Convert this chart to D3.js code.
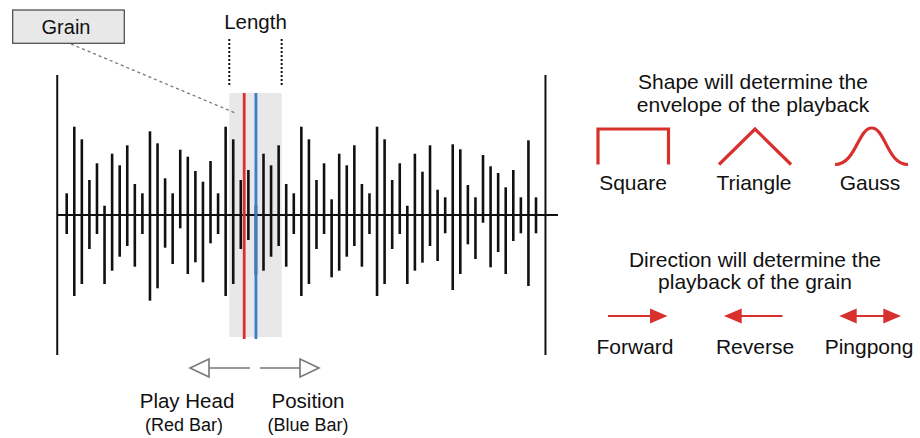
<!DOCTYPE html>
<html>
<head>
<meta charset="utf-8">
<script src="https://cdn.jsdelivr.net/npm/d3@7/dist/d3.min.js"></script>
<style>
  html, body { margin: 0; padding: 0; background: #fff; }
  svg { display: block; font-family: "Liberation Sans", Arial, sans-serif; }
</style>
</head>
<body>
<div id="chart"></div>
<script>
// ---- Data: grain waveform (sample amplitudes above / below the zero line) ----
const upper = [21.7, 88.3, 75.7, 35, 51.7, 9.3, 61.3, 49.7, 69.7, 31,
               21.7, 83.7, 71.7, 36.7, 21.7, 65.3, 58.3, 44, 33.3, 54,
               21.7, 88.3, 75.7, 35, 45, 10, 61.3, 49.7, 69.7, 31,
               21.7, 88.3, 75.7, 35, 51.7, 15.7, 61.3, 49.7, 69.7, 31,
               21.7, 88.3, 75.7, 35, 51.7, 9.3, 61.3, 43.3, 69.7, 25.3,
               17.7, 70.7, 65.7, 30, 17.7, 60, 48.7, 42, 27.7, 45,
               17.7, 74.7, 17.7];
const lower = [19, 81, 69, 34, 19, 69, 55.7, 41.7, 31, 51.7,
               19, 85.7, 73.3, 32.7, 49, 13.3, 59, 47.3, 67.3, 28.3,
               19, 81, 69, 34, 25, 60, 55.7, 41.7, 31, 51.7,
               19, 81, 69, 34, 19, 62.3, 55.7, 41.7, 31, 51.7,
               19, 81, 69, 34, 19, 69, 55.7, 47.7, 31, 46,
               18.3, 75, 59, 29.3, 44, 7.7, 52.3, 37, 59, 26,
               18.3, 71, 18.3];
// frame (buffer edges) and grain window, in sample-index units
const frameEdges = [-1.25, 63.25];
const frameAmp = 140;
const axisExtent = [-1.2, 64.9];
const grainWindow = [21.48, 28.4];
const playHeadPos = 23.45;   // red bar
const positionPos = 25;      // blue bar
const windowAmp = [122, -122];

// ---- Text labels ----
const shapeTitle = ["Shape will determine the", "envelope of the playback"];
const shapeLabels = ["Square", "Triangle", "Gauss"];
const dirTitle = ["Direction will determine the", "playback of the grain"];
const dirLabels = ["Forward", "Reverse", "Pingpong"];

const W = 920, H = 438;
const RED = "#d8302c", BLUE = "#3a7dc8";

const svg = d3.select("#chart").append("svg")
  .attr("width", W).attr("height", H);

const x = d3.scaleLinear().domain([0, upper.length - 1]).range([66.7, 536]);
const y = d3.scaleLinear().domain([-frameAmp, frameAmp]).range([355, 75]);

// grain window background
svg.append("rect")
  .attr("x", x(grainWindow[0])).attr("y", y(windowAmp[0]))
  .attr("width", x(grainWindow[1]) - x(grainWindow[0]))
  .attr("height", y(windowAmp[1]) - y(windowAmp[0]))
  .attr("fill", "#e8e8e8");

// frame edges
svg.selectAll("line.frame").data(frameEdges).enter().append("line")
  .attr("class", "frame")
  .attr("x1", d => x(d)).attr("x2", d => x(d))
  .attr("y1", y(frameAmp)).attr("y2", y(-frameAmp))
  .attr("stroke", "#111").attr("stroke-width", 2);

// zero line
svg.append("line")
  .attr("x1", x(axisExtent[0])).attr("x2", x(axisExtent[1]))
  .attr("y1", y(0)).attr("y2", y(0))
  .attr("stroke", "#111").attr("stroke-width", 2);

// sample bars
svg.selectAll("line.bar").data(upper.map((u, i) => ({u, l: lower[i], i})))
  .enter().append("line").attr("class", "bar")
  .attr("x1", d => x(d.i)).attr("x2", d => x(d.i))
  .attr("y1", d => y(d.u)).attr("y2", d => y(-d.l))
  .attr("stroke", "#111").attr("stroke-width", 2.6);

// play head + position
[[playHeadPos, RED], [positionPos, BLUE]].forEach(([p, c]) => {
  svg.append("line")
    .attr("x1", x(p)).attr("x2", x(p))
    .attr("y1", y(windowAmp[0])).attr("y2", y(windowAmp[1]) + 2)
    .attr("stroke", c).attr("stroke-width", 2.8);
});

// Length markers
grainWindow.forEach(g => {
  svg.append("line")
    .attr("x1", x(g)).attr("x2", x(g))
    .attr("y1", 39).attr("y2", 87)
    .attr("stroke", "#111").attr("stroke-width", 2)
    .attr("stroke-dasharray", "2,2");
});
svg.append("text").attr("x", (x(grainWindow[0]) + x(grainWindow[1])) / 2).attr("y", 29)
  .attr("text-anchor", "middle").attr("font-size", 20.5).attr("fill", "#111").text("Length");

// Grain box + connector
svg.append("line")
  .attr("x1", 71).attr("y1", 44).attr("x2", x(grainWindow[0]) + 6).attr("y2", 113)
  .attr("stroke", "#777").attr("stroke-width", 1.3).attr("stroke-dasharray", "3,3");
svg.append("rect").attr("x", 12.7).attr("y", 10).attr("width", 111.6).attr("height", 33.3)
  .attr("fill", "#e8e8e8").attr("stroke", "#444").attr("stroke-width", 1.2);
svg.append("text").attr("x", 66).attr("y", 34).attr("text-anchor", "middle")
  .attr("font-size", 20).attr("fill", "#111").text("Grain");

// Play head / Position arrows
const gray = "#777";
svg.append("path")
  .attr("d", "M250,368 L209,368 M209,359 L209,377 L190,368 Z")
  .attr("fill", "none").attr("stroke", gray).attr("stroke-width", 1.6).attr("stroke-linejoin", "miter");
svg.append("path")
  .attr("d", "M260,368 L300,368 M300,359 L300,377 L319,368 Z")
  .attr("fill", "none").attr("stroke", gray).attr("stroke-width", 1.6);
svg.append("text").attr("x", 187).attr("y", 408).attr("text-anchor", "middle")
  .attr("font-size", 20.5).attr("fill", "#111").text("Play Head");
svg.append("text").attr("x", 184).attr("y", 431).attr("text-anchor", "middle")
  .attr("font-size", 18).attr("fill", "#111").text("(Red Bar)");
svg.append("text").attr("x", 308).attr("y", 408).attr("text-anchor", "middle")
  .attr("font-size", 20.5).attr("fill", "#111").text("Position");
svg.append("text").attr("x", 308).attr("y", 431).attr("text-anchor", "middle")
  .attr("font-size", 18).attr("fill", "#111").text("(Blue Bar)");

// Right panel: shapes
const cx = [633, 754, 870];
shapeTitle.forEach((t, i) => svg.append("text").attr("x", 753).attr("y", 89 + i * 22.5)
  .attr("text-anchor", "middle").attr("font-size", 21).attr("fill", "#111").text(t));
shapeLabels.forEach((t, i) => svg.append("text").attr("x", cx[i]).attr("y", 189.5)
  .attr("text-anchor", "middle").attr("font-size", 21).attr("fill", "#111").text(t));
const shapePaths = [
  "M598,164.5 L598,129 L668.5,129 L668.5,164.5",
  "M719,164.5 L755,129 L791,164.5",
  "M835,164.5 C856,164.5 858,128 871.7,128 C885.5,128 887,164.5 908,164.5"
];
shapePaths.forEach(d => svg.append("path").attr("d", d).attr("fill", "none")
  .attr("stroke", RED).attr("stroke-width", 3.2));

// Right panel: directions
dirTitle.forEach((t, i) => svg.append("text").attr("x", 755).attr("y", 266.5 + i * 22.5)
  .attr("text-anchor", "middle").attr("font-size", 21).attr("fill", "#111").text(t));
dirLabels.forEach((t, i) => svg.append("text").attr("x", [635, 755, 869][i]).attr("y", 354)
  .attr("text-anchor", "middle").attr("font-size", 21).attr("fill", "#111").text(t));
const ay = 316;
const lines = [[608, 651], [741, 782.5], [856, 884]];
lines.forEach(([a, b]) => svg.append("line").attr("x1", a).attr("x2", b).attr("y1", ay).attr("y2", ay)
  .attr("stroke", RED).attr("stroke-width", 2));
const heads = [[650, 667.5], [741.7, 724], [856.7, 839.3], [883.3, 901]];
heads.forEach(([base, tip]) => svg.append("path")
  .attr("d", `M${base},${ay - 7.5} L${tip},${ay} L${base},${ay + 7.5} Z`).attr("fill", RED));
</script>
</body>
</html>
